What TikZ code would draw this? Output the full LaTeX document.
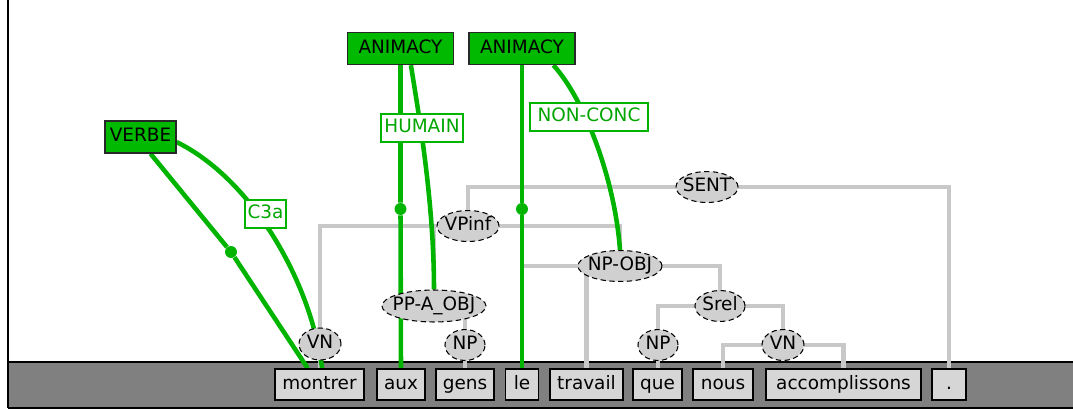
\documentclass[tikz,border=0pt]{standalone}
\usepackage{fontspec}
\setmainfont{DejaVu Sans}
\usetikzlibrary{shapes.geometric}
\definecolor{featgreen}{RGB}{0,185,0}
\definecolor{linegreen}{RGB}{0,180,0}
\definecolor{tagtext}{RGB}{0,165,0}
\definecolor{featborder}{RGB}{40,40,40}
\definecolor{treegray}{RGB}{200,200,200}
\definecolor{nodegray}{RGB}{208,208,208}
\definecolor{wordgray}{RGB}{214,214,214}
\definecolor{bandgray}{RGB}{128,128,128}
\pgfdeclarelayer{band}
\pgfdeclarelayer{tree}
\pgfdeclarelayer{rel}
\pgfsetlayers{band,tree,rel,main}
\newcommand{\phr}[1]{\makebox[0pt]{#1}}
\begin{document}
\begin{tikzpicture}[x=0.02cm, y=-0.02cm,
    every node/.style={font=\fontsize{10.5}{12}\selectfont},
    word/.style={draw=black, line width=1pt, fill=wordgray, inner xsep=2pt, inner ysep=0pt,
        minimum height=17.6pt, text height=7.8pt, text depth=2.3pt},
    phrase/.style={ellipse, draw=black, densely dashed, line width=0.6pt, fill=nodegray,
        inner sep=0pt, minimum height=17.6pt, text height=7.8pt, text depth=2.3pt},
    feat/.style={draw=featborder, line width=0.8pt, fill=featgreen, inner sep=0pt,
        minimum height=18.2pt, text height=7.8pt, text depth=2.3pt},
    tag/.style={draw=linegreen, line width=0.7pt, fill=white, text=tagtext, inner sep=0pt,
        minimum height=15.9pt, text height=7.8pt, text depth=2.3pt},
    rel/.style={draw=linegreen, line width=2.6pt},
    branch/.style={draw=treegray, line width=2.3pt},
    dot/.style={circle, fill=linegreen, inner sep=0pt, minimum size=6.8pt}]
    \useasboundingbox (0,0) rectangle (1073,410);

    % bottom band and frame
    \begin{pgfonlayer}{band}
        \fill[bandgray] (8,362) rectangle (1073,408);
        \draw[line width=1pt] (8,362) -- (1073,362);
        \draw[line width=1pt] (8,408) -- (1073,408);
        \draw[line width=1.1pt] (8,0) -- (8,408);
    \end{pgfonlayer}

    % words
    \foreach \x/\w/\mw/\n in {319.5/montrer/50.6/montrer, 401/aux/27.3/aux, 465/gens/33/gens,
        522/le/18.8/le, 586.5/travail/41.5/travail, 657.5/que/27.9/que, 723/nous/34.1/nous,
        843.5/accomplissons/88.2/accompl, 949/{.}/19.3/point}
    {
        \node[word, minimum width=\mw pt] (\n) at (\x,384.5) {\w};
    }

    % phrases
    \node[phrase, minimum width=35.3pt] (sent) at (707,187) {\phr{SENT}};
    \node[phrase, minimum width=35.3pt] (vpinf) at (468,226) {\phr{VPinf}};
    \node[phrase, minimum width=47.8pt] (npobj) at (620,266) {\phr{NP-OBJ}};
    \node[phrase, minimum width=59.2pt, minimum height=18.2pt] (pp) at (434,306) {\phr{PP-A\_OBJ}};
    \node[phrase, minimum width=28.5pt] (srel) at (720,306) {\phr{Srel}};
    \node[phrase, minimum width=23.9pt, minimum height=18.2pt] (vn1) at (320,344) {\phr{VN}};
    \node[phrase, minimum width=22.8pt] (np1) at (465,345) {\phr{NP}};
    \node[phrase, minimum width=22.8pt] (np2) at (658,345) {\phr{NP}};
    \node[phrase, minimum width=23.9pt] (vn2) at (783,345) {\phr{VN}};

    % features and values
    \node[feat, minimum width=40.4pt] (verbe) at (140.5,137) {VERBE};
    \node[feat, minimum width=60.3pt] (anim1) at (400.5,48.5) {ANIMACY};
    \node[feat, minimum width=60.3pt] (anim2) at (522,48.5) {ANIMACY};
    \node[dot] (dv) at (231,252) {};
    \node[dot] (da) at (400.5,209) {};
    \node[dot] (db) at (522,209) {};

    \begin{pgfonlayer}{tree}
        \draw[branch] (vpinf.center) |- (sent.center) -| (point.center);
        \draw[branch] (vn1.center) |- (vpinf.center) -| (npobj.center);
        \draw[branch] (vpinf.center -| pp.center) -- (pp.center);
        \draw[branch] (aux.center) |- (pp.center) -| (np1.center);
        \draw[branch] (vn1.center) -- (vn1.center |- montrer.center);
        \draw[branch] (np1.center) -- (np1.center |- gens.center);
        \draw[branch] (le.center) |- (npobj.center) -| (srel.center);
        \draw[branch] (npobj.center -| travail.center) -- (travail.center);
        \draw[branch] (np2.center) |- (srel.center) -| (vn2.center);
        \draw[branch] (np2.center) -- (np2.center |- que.center);
        \draw[branch] (nous.center) |- (vn2.center) -| (accompl.center);
    \end{pgfonlayer}

    \begin{pgfonlayer}{rel}
        \draw[rel] (verbe.-59) -- (dv) -- (montrer.126);
        \draw[rel] (verbe.-8) .. controls (250,178) and (310,278) .. (montrer.81);
        \draw[rel] (anim1.south) -- (da) -- (aux.north);
        \draw[rel] (anim1.-58) .. controls (418,110) and (434,200) .. (pp.north);
        \draw[rel] (anim2.south) -- (db) -- (le.north);
        \draw[rel] (anim2.-28) .. controls (585,100) and (615,180) .. (npobj.north);
    \end{pgfonlayer}

    \node[tag, minimum width=23.3pt] (c3a) at (265.5,214) {C3a};
    \node[tag, minimum width=46.7pt] (humain) at (422,128) {HUMAIN};
    \node[tag, minimum width=67.1pt] (nonconc) at (589,117) {NON-CONC};
\end{tikzpicture}
\end{document}
